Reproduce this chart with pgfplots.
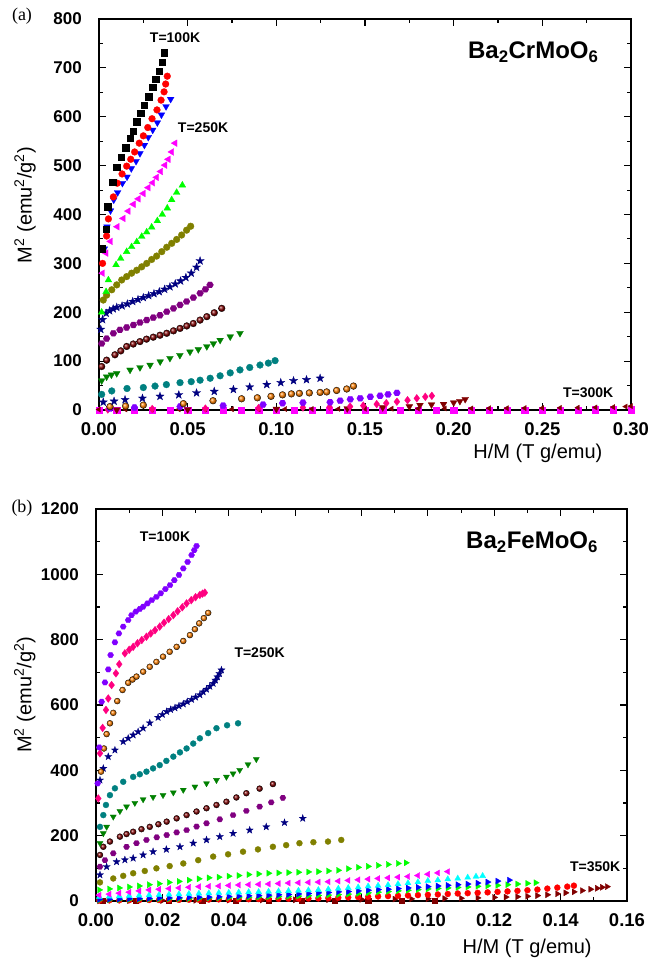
\documentclass[border=0pt]{standalone}
\usepackage{pgfplots}
\pgfplotsset{compat=1.18}
\usepackage{fontspec}
\setmainfont{Liberation Sans}
\newfontfamily\timesfont{Liberation Serif}
\definecolor{olv}{RGB}{128,128,0}
\definecolor{navy}{RGB}{0,0,128}
\definecolor{opurple}{RGB}{128,0,128}
\definecolor{wine}{RGB}{128,0,0}
\definecolor{dgreen}{RGB}{0,128,0}
\definecolor{dcyan}{RGB}{0,128,128}
\definecolor{oorange}{RGB}{255,128,0}
\definecolor{oviolet}{RGB}{128,0,255}
\definecolor{opink}{RGB}{255,0,128}
\definecolor{ogreen}{RGB}{0,255,0}
\definecolor{ocyan}{RGB}{0,255,255}
\definecolor{omagenta}{RGB}{255,0,255}
\pgfdeclareplotmark{hex*}{%
  \pgfpathmoveto{\pgfpointpolar{0}{\pgfplotmarksize}}%
  \pgfpathlineto{\pgfpointpolar{60}{\pgfplotmarksize}}%
  \pgfpathlineto{\pgfpointpolar{120}{\pgfplotmarksize}}%
  \pgfpathlineto{\pgfpointpolar{180}{\pgfplotmarksize}}%
  \pgfpathlineto{\pgfpointpolar{240}{\pgfplotmarksize}}%
  \pgfpathlineto{\pgfpointpolar{300}{\pgfplotmarksize}}%
  \pgfpathclose\pgfusepathqfillstroke}
\pgfdeclareplotmark{fstar}{%
  \pgfpathmoveto{\pgfpointpolar{90}{1.25\pgfplotmarksize}}%
  \pgfpathlineto{\pgfpointpolar{126}{0.5\pgfplotmarksize}}%
  \pgfpathlineto{\pgfpointpolar{162}{1.25\pgfplotmarksize}}%
  \pgfpathlineto{\pgfpointpolar{198}{0.5\pgfplotmarksize}}%
  \pgfpathlineto{\pgfpointpolar{234}{1.25\pgfplotmarksize}}%
  \pgfpathlineto{\pgfpointpolar{270}{0.5\pgfplotmarksize}}%
  \pgfpathlineto{\pgfpointpolar{306}{1.25\pgfplotmarksize}}%
  \pgfpathlineto{\pgfpointpolar{342}{0.5\pgfplotmarksize}}%
  \pgfpathlineto{\pgfpointpolar{18}{1.25\pgfplotmarksize}}%
  \pgfpathlineto{\pgfpointpolar{54}{0.5\pgfplotmarksize}}%
  \pgfpathclose\pgfusepathqfillstroke}
\pgfplotsset{
  myax/.style={scale only axis, only marks,
    axis line style={line width=1.4pt},
    tick style={line width=1.1pt, black},
    major tick length=7pt, minor tick length=4pt, tick align=inside,
    /pgf/number format/assume math mode=true,
    /pgf/number format/set thousands separator={},
    yticklabel style={font=\fontsize{17}{17}\selectfont\bfseries, inner sep=0pt, anchor=east, xshift=-17pt},
    xticklabel style={font=\fontsize{18.5}{18.5}\selectfont\bfseries, inner sep=0pt, anchor=north, yshift=-12pt},
    label style={font=\fontsize{20}{20}\selectfont},
    ylabel={M\textsuperscript{2} (emu\textsuperscript{2}/g\textsuperscript{2})},
    xlabel={H/M (T g/emu)},
    every axis plot/.append style={mark size=3.4pt, line width=0.3pt},
  },
  sq/.style={mark=square*, mark size=3.1pt, mark options={draw=#1, fill=#1}},
  ci/.style={mark=*, mark options={draw=#1, fill=#1}},
  td/.style={mark=triangle*, mark size=3.9pt, mark options={draw=#1, fill=#1, rotate=180}},
  tu/.style={mark=triangle*, mark size=3.9pt, mark options={draw=#1, fill=#1}},
  tl/.style={mark=triangle*, mark size=3.9pt, mark options={draw=#1, fill=#1, rotate=90}},
  tr/.style={mark=triangle*, mark size=3.9pt, mark options={draw=#1, fill=#1, rotate=-90}},
  st/.style={mark=fstar, mark options={draw=#1, fill=#1}},
  hx/.style={mark=hex*, mark options={draw=#1, fill=#1}},
  bl/.style={mark=ball, mark options={ball color=#1, draw=none}},
  dm/.style={mark=diamond*, mark size=3.9pt, mark options={draw=#1, fill=#1}},
}
\begin{document}
\begin{tikzpicture}
\useasboundingbox (0pt,0pt) rectangle (654pt,-962pt);
\node[font=\timesfont\fontsize{18}{18}\selectfont] at (22pt,-16pt) {(a)};
\node[font=\timesfont\fontsize{18}{18}\selectfont] at (22pt,-508pt) {(b)};
% ---------------- panel (a)
\begin{axis}[myax, at={(99pt,-410pt)}, anchor=south west,
  width=532pt, height=391pt,
  xmin=0, xmax=0.30, ymin=0, ymax=800,
  xtick={0,0.05,...,0.301}, ytick={0,100,...,800},
  minor x tick num=1, minor y tick num=1,
  xticklabel style={/pgf/number format/.cd, fixed, fixed zerofill, precision=2},
  xlabel style={at={(axis description cs:0.825,-0.11)}, anchor=center},
  ylabel style={at={(axis description cs:-0.139,0.524)}, anchor=center},
]
\addplot[sq=omagenta] coordinates {(0.0,0.3)(0.01,0.3)(0.02,0.3)(0.03,0.3)(0.04,0.3)(0.05,0.3)(0.06,0.3)(0.07,0.3)(0.08,0.3)(0.09,0.3)(0.10,0.3)(0.11,0.3)(0.12,0.3)(0.13,0.3)(0.14,0.3)(0.15,0.3)(0.16,0.3)(0.17,0.3)(0.18,0.3)(0.19,0.3)(0.20,0.3)(0.21,0.4)(0.22,0.4)(0.23,0.4)(0.24,0.4)(0.25,0.5)(0.26,0.5)(0.27,0.5)(0.28,0.6)(0.29,0.6)(0.30,0.7)};
\addplot[tl=wine, mark size=3pt] coordinates {(0.0,1)(0.015,1)(0.03,1.2)(0.045,1.3)(0.06,1.5)(0.075,1.6)(0.09,1.8)(0.105,2)(0.12,2.1)(0.135,2.3)(0.15,2.5)(0.165,2.7)(0.18,2.9)(0.195,3.1)(0.21,3.3)(0.22,3.5)(0.23,3.7)(0.24,3.9)(0.25,4.1)(0.26,4.4)(0.27,4.8)(0.28,5.3)(0.29,6)(0.297,7)(0.30,8)};
\addplot[td=wine] coordinates {(0.01,0.5)(0.05,1)(0.1,2)(0.14,3)(0.16,5)(0.175,7)(0.181,10)(0.1875,11)(0.1943,12)(0.2,15)(0.2035,18)(0.2065,22)};
\addplot[dm=opink] coordinates {(0.005,1)(0.03,2)(0.06,3)(0.09,4)(0.115,5)(0.13,6)(0.1416,7)(0.149,9)(0.1566,12)(0.162,14)(0.168,17)(0.174,20)(0.1792,24)(0.184,27)(0.1877,29)};
\addplot[hx=oviolet] coordinates {(0.0062,3)(0.02,5)(0.0457,7)(0.07,9)(0.0925,11)(0.1035,14)(0.115,15)(0.1303,16)(0.136,19)(0.1417,22)(0.1473,24)(0.153,27)(0.1585,29)(0.163,32)(0.168,35)};
\addplot[bl=oorange] coordinates {(0.0062,7)(0.015,8)(0.025,10)(0.0476,13)(0.0643,19)(0.0804,23)(0.0893,25)(0.097,28)(0.1035,31)(0.1085,33)(0.1130,34)(0.1186,35)(0.1247,36)(0.1284,37)(0.134,40)(0.1397,43)(0.1435,49)};
\addplot[st=navy] coordinates {(0.0024,16)(0.0085,18)(0.0147,21)(0.0245,24)(0.0344,28)(0.045,31)(0.055,35)(0.065,38)(0.0758,42)(0.085,47)(0.0946,52)(0.1025,56)(0.1097,60)(0.117,62)(0.1247,65)};
\addplot[ci=dcyan] coordinates {(0.0015,32)(0.0072,39)(0.0158,44)(0.025,46)(0.0316,49)(0.038,52)(0.0457,56)(0.052,58)(0.057,61)(0.0627,65)(0.0683,70)(0.074,76)(0.0795,82)(0.085,87)(0.0908,92)(0.0955,96)(0.0993,101)};
\addplot[td=dgreen] coordinates {(0.0015,60)(0.0043,68)(0.007,72)(0.010,75)(0.0175,82)(0.0231,87)(0.0288,92)(0.0345,99)(0.040,106)(0.0456,112)(0.0513,119)(0.056,124)(0.0608,130)(0.0645,136)(0.0683,143)(0.074,150)(0.0795,157)};
\addplot[bl=wine] coordinates {(0.0015,89)(0.0043,102)(0.009,113)(0.0123,121)(0.0156,130)(0.0193,135)(0.0231,140)(0.0268,145)(0.0306,149)(0.0344,153)(0.0382,157)(0.042,162)(0.0457,167)(0.0495,172)(0.0532,177)(0.057,184)(0.0608,191)(0.065,199)(0.0692,208)};
\addplot[hx=opurple] coordinates {(0.0015,136)(0.0043,146)(0.0081,157)(0.0118,164)(0.0156,169)(0.0194,174)(0.0231,179)(0.0269,184)(0.0306,189)(0.0344,194)(0.0382,201)(0.042,208)(0.0457,215)(0.0494,222)(0.0532,230)(0.057,239)(0.060,247)(0.0626,256)};
\addplot[st=navy] coordinates {(0.001,165)(0.002,185)(0.004,198)(0.006,203)(0.008,207)(0.010,210)(0.013,213)(0.016,217)(0.019,222)(0.022,226)(0.025,230)(0.028,234)(0.031,238)(0.034,242)(0.037,247)(0.040,252)(0.043,258)(0.046,264)(0.049,271)(0.052,280)(0.055,292)(0.057,305)};
\addplot[ci=olv] coordinates {(0.0024,225)(0.0043,235)(0.0072,246)(0.010,256)(0.0128,266)(0.0156,273)(0.0184,280)(0.0213,286)(0.0241,293)(0.0269,300)(0.0297,308)(0.0325,315)(0.0354,324)(0.0382,333)(0.0410,341)(0.0438,349)(0.0466,358)(0.0494,368)(0.0517,376)};
\addplot[tu=ogreen] coordinates {(0.0015,200)(0.004,242)(0.0053,266)(0.0096,297)(0.0122,310)(0.0156,324)(0.0184,334)(0.0213,344)(0.0241,355)(0.0269,364)(0.0297,374)(0.0329,387)(0.0357,400)(0.0385,413)(0.0410,430)(0.0438,445)(0.0470,460)};
\addplot[tl=omagenta] coordinates {(0.002,280)(0.004,321)(0.0065,345)(0.0103,375)(0.0137,392)(0.0165,407)(0.0194,421)(0.0222,432)(0.0250,443)(0.0278,455)(0.0303,465)(0.0325,476)(0.0348,488)(0.0372,501)(0.0391,513)(0.0410,528)(0.0429,546)};
\addplot[td=blue] coordinates {(0.003,330)(0.0045,375)(0.0065,408)(0.0083,430)(0.0105,445)(0.0132,464)(0.0158,477)(0.0182,494)(0.0209,509)(0.0231,525)(0.0256,542)(0.0278,558)(0.0303,573)(0.0329,588)(0.0352,604)(0.0378,621)(0.0404,636)};
\addplot[ci=red] coordinates {(0.002,300)(0.0043,356)(0.0053,391)(0.0081,436)(0.0103,464)(0.0130,483)(0.0156,499)(0.0179,513)(0.0201,528)(0.0227,546)(0.0250,561)(0.0275,578)(0.0299,596)(0.0327,614)(0.0350,634)(0.0367,651)(0.0376,667)(0.0385,683)};
\addplot[sq=black] coordinates {(0.002,330)(0.0040,370)(0.0049,416)(0.0077,467)(0.0100,497)(0.0124,518)(0.0150,537)(0.0175,556)(0.0194,571)(0.0212,590)(0.0235,607)(0.0256,624)(0.0280,641)(0.0303,660)(0.0320,677)(0.0338,694)(0.0354,712)(0.0369,731)};
\node[font=\fontsize{24}{24}\selectfont\bfseries] at (axis cs:0.2449,732) {Ba\textsubscript{2}CrMoO\textsubscript{6}};
\node[font=\fontsize{14}{14}\selectfont\bfseries] at (axis cs:0.0429,761) {T=100K};
\node[font=\fontsize{14}{14}\selectfont\bfseries] at (axis cs:0.0587,577) {T=250K};
\node[font=\fontsize{14}{14}\selectfont\bfseries] at (axis cs:0.2759,35) {T=300K};
\end{axis}
% ---------------- panel (b)
\begin{axis}[myax, at={(96pt,-901pt)}, anchor=south west,
  width=531pt, height=392pt,
  xmin=0, xmax=0.16, ymin=0, ymax=1200,
  xtick={0,0.02,...,0.161}, ytick={0,200,...,1200},
  minor x tick num=1, minor y tick num=1,
  xticklabel style={/pgf/number format/.cd, fixed, fixed zerofill, precision=2},
  xlabel style={at={(axis description cs:0.812,-0.12)}, anchor=center},
  ylabel style={at={(axis description cs:-0.134,0.526)}, anchor=center},
  every axis plot/.append style={mark size=3pt},
]
\addplot[sq=wine, mark size=2.6pt] coordinates {(0.002,0.5)(0.012,0.5)(0.022,0.5)(0.032,0.5)(0.042,0.5)(0.052,0.5)(0.062,0.5)(0.072,0.5)(0.082,0.5)(0.092,0.5)(0.102,0.5)};
\addplot[tr=wine, mark size=3.5pt] coordinates {(0.001,0.5)(0.01,1)(0.02,1.5)(0.03,2)(0.04,2.5)(0.05,3)(0.06,3.5)(0.07,4)(0.08,5)(0.09,6)(0.095,6.5)(0.10,7)(0.105,7.5)(0.11,8.5)(0.115,9.5)(0.12,11)(0.1235,12)(0.127,13)(0.130,14.5)(0.133,16.5)(0.136,19)(0.139,22)(0.1415,25)(0.144,28)(0.1465,32)(0.149,36)(0.151,39)(0.1525,42)(0.154,44)};
\addplot[ci=red] coordinates {(0.001,1.5)(0.004,2)(0.007,2)(0.010,2.5)(0.013,2.5)(0.016,3)(0.019,3)(0.022,3.5)(0.025,3.5)(0.028,4)(0.031,4)(0.034,4.5)(0.037,5)(0.040,5)(0.043,5.5)(0.046,5.5)(0.049,6)(0.052,6)(0.055,6.5)(0.058,7)(0.061,7)(0.064,7.5)(0.067,8)(0.070,9)(0.073,10)(0.076,11)(0.079,12)(0.082,13)(0.085,14)(0.088,15)(0.091,16)(0.094,17)(0.097,18)(0.100,19)(0.103,20)(0.106,21.5)(0.109,23)(0.112,24)(0.115,25)(0.118,26.5)(0.121,28)(0.124,29.5)(0.127,31)(0.130,33)(0.133,35)(0.136,38)(0.139,41)(0.142,44)(0.144,47)};
\addplot[tr=ogreen, mark size=3.5pt] coordinates {(0.001,3)(0.004,3.5)(0.007,4)(0.010,4.5)(0.013,5)(0.016,5.5)(0.019,6)(0.022,6.5)(0.025,7)(0.028,7.5)(0.031,8)(0.034,9)(0.037,9.5)(0.040,10)(0.043,11)(0.046,11.5)(0.049,12)(0.052,13)(0.055,13.5)(0.058,14)(0.061,15)(0.064,16)(0.067,17)(0.070,18)(0.073,19.5)(0.076,21)(0.079,23)(0.082,25)(0.085,27)(0.088,29)(0.091,31)(0.094,33)(0.097,35)(0.100,37)(0.103,38.5)(0.106,40)(0.109,41.5)(0.112,43)(0.115,45)(0.118,46.5)(0.121,48)(0.124,50)(0.127,52)(0.130,54)(0.1325,56)};
\addplot[tr=blue, mark size=3.5pt] coordinates {(0.001,5)(0.004,5.5)(0.007,6)(0.010,7)(0.013,7.5)(0.016,8)(0.019,9)(0.022,9.5)(0.025,10)(0.028,11)(0.031,11.5)(0.034,12)(0.037,13)(0.040,14)(0.043,15)(0.046,16)(0.049,17)(0.052,18)(0.055,19)(0.058,20)(0.061,21.5)(0.064,23)(0.067,25)(0.070,26)(0.073,28)(0.076,29)(0.079,31)(0.082,33)(0.085,35)(0.088,36)(0.091,38)(0.094,40)(0.097,42)(0.100,44)(0.103,46)(0.106,48)(0.109,50)(0.112,52)(0.115,55)(0.118,58)(0.121,61)(0.1245,64)};
\addplot[tu=ocyan, mark size=3.5pt] coordinates {(0.001,13)(0.004,14)(0.007,15)(0.010,16)(0.013,17)(0.016,18)(0.019,19)(0.022,20)(0.025,21)(0.028,22)(0.031,23)(0.034,24)(0.037,25)(0.040,25.5)(0.043,26.5)(0.046,27.5)(0.049,28)(0.052,29)(0.055,30)(0.058,31)(0.061,32)(0.064,33)(0.067,34)(0.070,36)(0.073,38)(0.076,40)(0.079,42)(0.082,45)(0.085,47)(0.088,49)(0.091,52)(0.094,55)(0.097,58)(0.100,62)(0.103,64)(0.106,67)(0.109,69)(0.112,72)(0.1145,75)(0.1165,77)};
\addplot[tl=omagenta, mark size=3.5pt] coordinates {(0.001,18)(0.004,21)(0.007,24)(0.010,27)(0.013,31)(0.016,34)(0.019,36)(0.022,38)(0.025,40)(0.028,42)(0.031,44)(0.034,45)(0.037,46)(0.040,47.5)(0.043,49)(0.046,50)(0.049,51)(0.052,52)(0.055,53.5)(0.058,55)(0.061,56)(0.064,57)(0.067,58)(0.070,59)(0.073,61)(0.076,63)(0.079,65)(0.082,67)(0.085,69)(0.088,71)(0.091,73)(0.094,75)(0.097,78)(0.100,82)(0.103,86)(0.106,90)};
\addplot[tr=ogreen, mark size=3.5pt] coordinates {(0.001,34)(0.004,37)(0.007,40)(0.010,43)(0.013,46)(0.016,50)(0.019,53)(0.022,57)(0.025,60)(0.028,64)(0.031,68)(0.034,71)(0.037,73)(0.040,76)(0.043,78)(0.046,81)(0.049,83)(0.052,85)(0.055,86)(0.058,87)(0.061,88)(0.064,89)(0.067,90)(0.070,92)(0.073,94)(0.076,99)(0.079,103)(0.082,106)(0.085,109)(0.088,112)(0.091,115)(0.0934,117)};
\addplot[ci=olv] coordinates {(0.0012,57)(0.0052,69)(0.0082,77)(0.0112,85)(0.0147,92)(0.0182,100)(0.0222,107)(0.0263,115)(0.0308,125)(0.0353,136)(0.0398,143)(0.0443,151)(0.0488,158)(0.0533,166)(0.0573,171)(0.0613,177)(0.0655,180)(0.0699,182)(0.0739,187)};
\addplot[st=navy] coordinates {(0.0012,80)(0.0032,105)(0.0062,120)(0.0087,126)(0.0112,131)(0.0142,141)(0.0172,151)(0.0212,158)(0.0253,166)(0.0293,177)(0.0333,187)(0.0373,197)(0.0413,207)(0.0463,217)(0.0513,227)(0.0568,240)(0.0623,253)};
\addplot[hx=opurple] coordinates {(0.0012,105)(0.0027,125)(0.0052,146)(0.0092,166)(0.0122,177)(0.0152,187)(0.0183,195)(0.0213,202)(0.0243,210)(0.0273,217)(0.0303,228)(0.0333,238)(0.0373,250)(0.0413,263)(0.0453,276)(0.0493,289)(0.0528,302)(0.0563,316)};
\addplot[bl=wine] coordinates {(0.0012,141)(0.0022,166)(0.0042,182)(0.0072,197)(0.0092,205)(0.0112,212)(0.0137,220)(0.0162,227)(0.0188,235)(0.0213,243)(0.0243,253)(0.0273,263)(0.0303,274)(0.0333,284)(0.0363,294)(0.0393,304)(0.0423,317)(0.0453,330)(0.0493,344)(0.0533,358)};
\addplot[td=dgreen, mark size=3.5pt] coordinates {(0.0012,177)(0.0022,207)(0.0032,227)(0.0052,258)(0.0072,275)(0.0092,289)(0.0117,300)(0.0142,311)(0.0172,318)(0.0202,324)(0.0233,332)(0.0263,340)(0.0298,350)(0.0333,360)(0.0363,370)(0.0393,380)(0.0413,390)(0.0433,401)(0.0458,418)(0.0483,434)};
\addplot[ci=dcyan] coordinates {(0.0012,227)(0.0022,263)(0.003,294)(0.0042,324)(0.0057,345)(0.0082,365)(0.0112,380)(0.0132,388)(0.0152,396)(0.0172,406)(0.0192,416)(0.0212,429)(0.0233,442)(0.0253,455)(0.0273,467)(0.0293,482)(0.0313,498)(0.0338,514)(0.0363,529)(0.0395,538)(0.0428,544)};
\addplot[st=navy] coordinates {(0.0012,370)(0.0022,406)(0.0037,442)(0.0057,462)(0.0082,488)(0.0097,498)(0.0112,508)(0.0127,518)(0.0142,529)(0.0162,545)(0.0187,562)(0.0200,571)(0.0213,580)(0.0225,586)(0.0238,591)(0.025,597)(0.0263,603)(0.0275,610)(0.0288,617)(0.030,624)(0.0313,631)(0.0323,640)(0.0333,648)(0.0343,657)(0.0353,666)(0.036,676)(0.0366,686)(0.0372,696)(0.0378,707)};
\addplot[bl=oorange] coordinates {(0.0015,396)(0.0024,467)(0.0032,511)(0.0042,544)(0.0052,576)(0.0064,612)(0.008,646)(0.0097,668)(0.011,678)(0.0122,687)(0.0142,702)(0.0162,717)(0.0182,732)(0.0202,748)(0.0222,763)(0.0243,778)(0.0263,796)(0.0283,814)(0.0298,832)(0.0311,850)(0.0325,866)(0.0338,882)};
\addplot[dm=opink] coordinates {(0.0007,314)(0.0012,452)(0.002,530)(0.003,585)(0.0037,620)(0.0047,661)(0.006,697)(0.007,725)(0.0087,758)(0.010,769)(0.0112,778)(0.0125,789)(0.0138,799)(0.0152,809)(0.0165,819)(0.0178,829)(0.0192,840)(0.0205,852)(0.0219,863)(0.0233,875)(0.0246,887)(0.026,899)(0.0273,911)(0.0287,921)(0.030,930)(0.0313,937)(0.0321,941)(0.0328,944)};
\addplot[hx=oviolet] coordinates {(0.0005,360)(0.001,470)(0.0017,610)(0.0027,669)(0.0037,709)(0.0044,753)(0.0057,792)(0.0069,819)(0.0082,840)(0.0097,860)(0.0107,875)(0.012,886)(0.0132,894)(0.0142,901)(0.0155,911)(0.0168,921)(0.0182,931)(0.0195,942)(0.0209,955)(0.0223,967)(0.0236,982)(0.025,998)(0.0263,1018)(0.0276,1038)(0.0288,1059)(0.0296,1074)(0.0303,1087)};
\node[font=\fontsize{24}{24}\selectfont\bfseries] at (axis cs:0.1314,1099) {Ba\textsubscript{2}FeMoO\textsubscript{6}};
\node[font=\fontsize{14}{14}\selectfont\bfseries] at (axis cs:0.0208,1114) {T=100K};
\node[font=\fontsize{14}{14}\selectfont\bfseries] at (axis cs:0.0493,759) {T=250K};
\node[font=\fontsize{14}{14}\selectfont\bfseries] at (axis cs:0.1504,104) {T=350K};
\end{axis}
\end{tikzpicture}
\end{document}
